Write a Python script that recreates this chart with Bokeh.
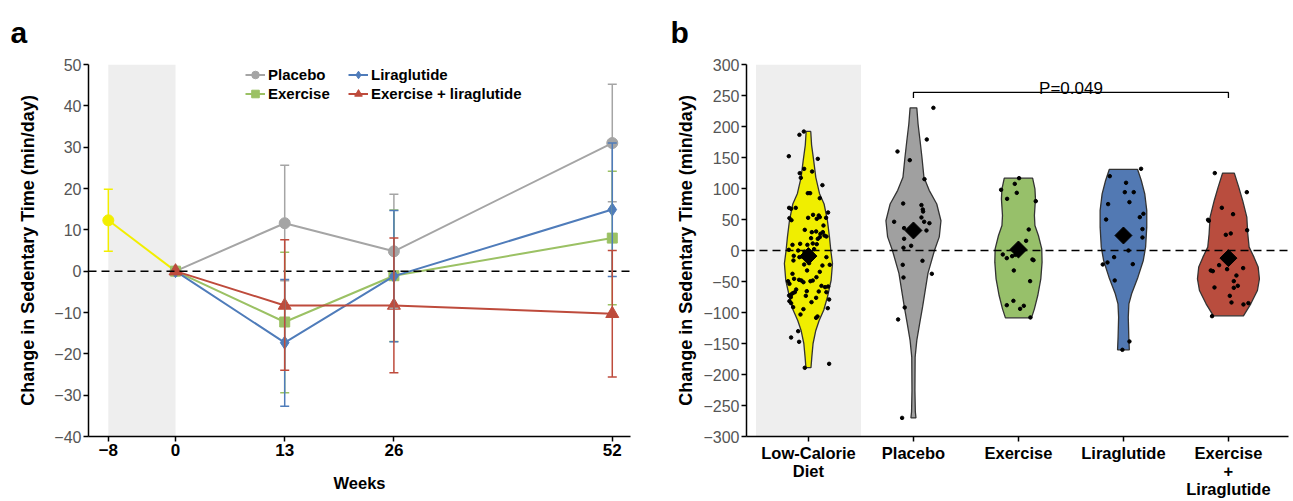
import numpy as np
from bokeh.plotting import figure
from bokeh.models import (Range1d, FixedTicker, BoxAnnotation, Span, Whisker, TeeHead,
                          ColumnDataSource, Legend, LegendItem, Label)
from bokeh.layouts import row
from bokeh.embed import file_html
from bokeh.resources import INLINE

FONT = "Liberation Sans"

# ---------------- Panel a data ----------------
weeks = [0, 13, 26, 52]
err_weeks = [13, 26, 52]
x_ticks_a = [-8, 0, 13, 26, 52]
y_ticks_a = list(range(-40, 51, 10))

lcd_weeks = [-8, 0]
lcd_mean = [12.3, 0.0]
lcd_err_week = [-8]
lcd_lo = [4.8]
lcd_hi = [19.8]

placebo_mean = [0.0, 11.6, 4.8, 31.0]
placebo_lo = [-2.3, -9.0, 16.8]
placebo_hi = [25.6, 18.6, 45.2]

exercise_mean = [0.0, -12.3, -1.1, 8.0]
exercise_lo = [-29.4, -17.0, -8.1]
exercise_hi = [4.6, 14.8, 24.2]

lira_mean = [0.0, -17.3, -1.2, 14.9]
lira_lo = [-32.7, -17.1, -1.3]
lira_hi = [-2.0, 14.7, 31.0]

exlira_mean = [0.0, -8.3, -8.3, -10.3]
exlira_lo = [-24.0, -24.6, -25.6]
exlira_hi = [7.6, 8.0, 5.0]

# ---------------- Panel b data ----------------
groups_b = ["Low-Calorie\nDiet", "Placebo", "Exercise", "Liraglutide", "Exercise\n+\nLiraglutide"]
y_ticks_b = list(range(-300, 301, 50))
group_means = [-9.0, 32.3, 1.6, 24.2, -12.3]

lcd_vals = [186.6, 191.9, 152.1, 147.8, 124.7, 131.7, 127.4, 117.2, 105.4, 92.5,
            92.5, 84.4, 68.8, 67.2, 68.8, 61.3, 52.2, 48.9, 52.7, 57.5,
            51.1, 56.5, 53.8, 52.7, 40.3, 33.3, 29.6, 30.7, 26.9, 29.6,
            24.2, 22.6, 19.9, 18.8, 21.5, 9.1, 10.8, 9.1, 11.3, 10.2,
            1.1, 0.0, -2.1, 2.2, -8.6, -10.7, -9.7, -10.7, -16.1, -22.6,
            -20.4, -24.2, -23.1, -32.2, -34.4, -37.6, -43.0, -45.7, -47.3, -48.4,
            -51.1, -49.5, -48.4, -49.5, -53.8, -57.0, -59.1, -58.1, -62.9, -65.6,
            -66.1, -67.2, -72.6, -71.0, -68.8, -67.2, -75.3, -73.1, -76.3, -81.7,
            -85.0, -83.3, -79.0, -91.4, -94.6, -93.0, -103.2, -106.4, -108.6, -130.1,
            -140.3, -147.3, -182.8, -189.2]
lcd_jit = [-0.086, -0.044, -0.187, 0.089, -0.083, -0.041, 0.035, -0.073, 0.133, -0.006,
           0.016, 0.108, -0.184, -0.165, -0.121, 0.187, -0.181, -0.162, -0.003, 0.044,
           0.079, 0.098, 0.108, 0.168, 0.143, -0.035, 0.032, 0.073, 0.114, 0.137,
           0.152, 0.171, 0.025, 0.089, 0.108, -0.152, -0.079, -0.010, 0.041, 0.079,
           -0.187, -0.098, -0.038, 0.054, -0.140, -0.086, -0.060, 0.171, -0.143, -0.041,
           0.006, 0.133, 0.203, -0.013, 0.108, -0.152, 0.076, -0.137, -0.089, -0.067,
           -0.048, 0.019, 0.041, -0.194, -0.181, 0.124, 0.159, 0.187, -0.117, -0.016,
           0.098, 0.171, -0.184, -0.165, -0.149, -0.130, -0.168, -0.025, 0.073, -0.181,
           -0.165, 0.029, 0.197, -0.146, -0.048, 0.184, -0.076, 0.086, 0.073, -0.098,
           -0.165, -0.089, 0.197, -0.035]

plc_vals = [230.1, 159.7, 179.1, 145.7, 115.1, 75.8, 73.2, 66.2, 62.9, 53.3, 46.3, 46.3,
            44.1, 32.3, 36.1, 18.9, 7.6, 4.4, -16.6, -23.1, -37.6, -43.5, -91.9, -111.2, -270.0]
plc_jit = [0.190, -0.152, 0.127, -0.035, 0.105, -0.098, 0.076, 0.089, 0.092, 0.076, -0.184, 0.102,
           0.152, 0.124, -0.089, -0.089, -0.022, -0.095, 0.086, -0.102, 0.175, -0.095, -0.083, -0.146, -0.108]

ex_vals = [116.7, 107.5, 97.9, 93.0, 83.3, 79.6, 33.9, 15.6, -6.4, -12.3, -9.1, -7.0,
           -14.5, -15.6, -32.2, -49.4, -88.2, -81.2, -94.1, -89.2, -108.0]
ex_jit = [0.006, -0.035, -0.165, -0.016, -0.108, 0.165, 0.098, 0.073, -0.149, -0.111, -0.060, -0.029,
          0.133, 0.143, -0.044, 0.111, -0.111, -0.048, 0.016, 0.051, 0.114]

li_vals = [131.8, 119.9, 109.2, 94.1, 94.1, 78.0, 74.8, 59.2, 53.8, 50.0, 34.5, 21.0,
           0.0, -10.7, -19.3, -22.5, -22.0, -48.3, -146.7, -160.2]
li_jit = [0.168, -0.130, 0.025, 0.013, 0.098, 0.057, -0.146, 0.190, 0.156, -0.165, 0.181, 0.181,
          0.048, -0.089, -0.152, -0.197, 0.089, -0.083, 0.057, -0.010]

el_vals = [124.8, 94.1, 68.9, 58.6, 49.5, 47.9, 25.3, 27.5, 32.8, -23.6, -30.1, -28.4,
           -32.2, -33.3, -40.3, -49.4, -57.0, -60.2, -59.6, -73.1, -83.8, -87.0, -84.9, -105.9]
el_jit = [-0.130, 0.175, -0.063, 0.044, -0.194, -0.187, -0.025, 0.022, 0.178, -0.089, -0.013, 0.140,
          -0.168, -0.149, 0.076, 0.051, 0.089, 0.051, -0.133, 0.013, 0.029, 0.143, 0.190, -0.156]

# violin outlines: value levels and half widths (category units)
lcd_prof_y = [192, 170, 145, 118, 92, 75, 48, 22, 0, -21, -48, -75, -96, -113, -129, -150, -172, -189]
lcd_prof_w = [0.022, 0.030, 0.050, 0.070, 0.105, 0.149, 0.181, 0.200, 0.213, 0.229, 0.216, 0.181,
              0.146, 0.102, 0.070, 0.044, 0.032, 0.024]
plc_prof_y = [230, 204, 177, 150, 118, 97, 75, 48, 22, 0, -37, -91, -118, -145, -172, -226, -260, -270]
plc_prof_w = [0.032, 0.044, 0.063, 0.081, 0.100, 0.150, 0.222, 0.262, 0.246, 0.200, 0.138, 0.087,
              0.059, 0.032, 0.016, 0.014, 0.018, 0.024]
ex_prof_y = [116.7, 99.5, 83.3, 56.5, 40.3, 24.2, 2.7, -18.8, -45.7, -72.6, -94.1, -108.6]
ex_prof_w = [0.135, 0.157, 0.162, 0.152, 0.157, 0.190, 0.222, 0.225, 0.213, 0.184, 0.152, 0.124]
li_prof_y = [130.7, 112.9, 91.4, 64.6, 37.7, 5.4, -16.1, -43.0, -69.8, -86.0, -107.5, -139.7, -160.2]
li_prof_w = [0.135, 0.170, 0.203, 0.222, 0.222, 0.211, 0.189, 0.138, 0.078, 0.052, 0.046, 0.051, 0.056]
el_prof_y = [124.8, 102.2, 80.7, 53.8, 27.0, 5.4, -10.7, -26.8, -45.7, -64.5, -86.0, -105.3]
el_prof_w = [0.056, 0.098, 0.135, 0.175, 0.184, 0.197, 0.243, 0.283, 0.295, 0.276, 0.213, 0.143]

p_text = "P=0.049"
bracket_pair = (1, 4)      # Placebo vs Exercise + Liraglutide (indices)
bracket_y = 255
bracket_drop = 246

# ---------------- styling ----------------
C_GRAY, C_GREEN, C_BLUE, C_RED, C_YEL = "#A5A5A5", "#9BC164", "#4F7CBA", "#BE4B3C", "#F2EE00"
V_COLS = ["#F0EE00", "#A0A0A0", "#97C06A", "#5279B3", "#B94D3E"]
SHADE = "#EEEEEE"
TICK_GRAY = "#555555"


def style_axes(p):
    p.xgrid.visible = False
    p.ygrid.visible = False
    p.outline_line_color = None
    for ax in (p.xaxis[0], p.yaxis[0]):
        ax.axis_line_color = "black"
        ax.axis_line_width = 1.5
        ax.major_tick_line_color = "black"
        ax.major_tick_line_width = 1.5
        ax.major_tick_out = 5
        ax.major_tick_in = 0
        ax.minor_tick_line_color = None
        ax.major_label_text_font = FONT
        ax.axis_label_text_font = FONT
        ax.axis_label_text_font_style = "bold"
        ax.axis_label_text_color = "black"
    p.yaxis[0].axis_label_text_font_size = "18px"
    p.xaxis[0].axis_label_text_font_size = "16.5px"
    p.yaxis[0].major_label_text_font_size = "16px"
    p.yaxis[0].major_label_text_color = TICK_GRAY
    p.yaxis[0].major_label_standoff = 2
    p.xaxis[0].major_label_text_font_size = "17px"
    p.xaxis[0].major_label_text_font_style = "bold"
    p.xaxis[0].major_label_text_color = "black"
    p.xaxis[0].major_label_standoff = 2
    p.title.text_font = FONT
    p.title.text_font_size = "30px"
    p.title.text_font_style = "bold"
    p.title.text_color = "black"
    p.title.align = "left"
    p.title.vertical_align = "top"
    p.title.standoff = 27


# ---------------- Panel a ----------------
p1 = figure(width=645, height=501, x_range=Range1d(-10.36, 54.17), y_range=Range1d(-40, 50),
            output_backend="svg", toolbar_location=None, title="a",
            min_border_left=88, min_border_right=15, min_border_top=64, min_border_bottom=65)
style_axes(p1)
p1.title.offset = -78
p1.xaxis[0].ticker = FixedTicker(ticks=x_ticks_a)
p1.yaxis[0].ticker = FixedTicker(ticks=y_ticks_a)
p1.xaxis[0].axis_label = "Weeks"
p1.yaxis[0].axis_label = "Change in Sedentary Time (min/day)"
p1.xaxis[0].axis_label_standoff = 15
p1.yaxis[0].axis_label_standoff = 13

p1.add_layout(BoxAnnotation(left=lcd_weeks[0], right=lcd_weeks[1], fill_color=SHADE, fill_alpha=1,
                            line_color=None, level="underlay"))
p1.add_layout(Span(location=0, dimension="width", line_color="black", line_width=1.5, line_dash="8 5"))

# low-calorie diet run-in
p1.line(lcd_weeks, lcd_mean, line_color=C_YEL, line_width=2)
p1.scatter(lcd_weeks[:1], lcd_mean[:1], marker="circle", size=11, color=C_YEL)
src_l = ColumnDataSource(dict(x=lcd_err_week, lo=lcd_lo, hi=lcd_hi))
p1.add_layout(Whisker(base="x", lower="lo", upper="hi", source=src_l, line_color=C_YEL, line_width=1.5,
                      upper_head=TeeHead(size=9, line_color=C_YEL, line_width=1.5),
                      lower_head=TeeHead(size=9, line_color=C_YEL, line_width=1.5), level="overlay"))

series = [
    ("Placebo", placebo_mean, placebo_lo, placebo_hi, C_GRAY, "circle", 11),
    ("Exercise", exercise_mean, exercise_lo, exercise_hi, C_GREEN, "square", 10),
    ("Liraglutide", lira_mean, lira_lo, lira_hi, C_BLUE, "diamond", 13),
    ("Exercise + liraglutide", exlira_mean, exlira_lo, exlira_hi, C_RED, "triangle", 13),
]
items = {}
for name, mean, lo, hi, col, mk, sz in series:
    lr = p1.line(weeks, mean, line_color=col, line_width=2)
    mr = p1.scatter(weeks, mean, marker=mk, size=sz, color=col)
    src = ColumnDataSource(dict(x=err_weeks, lo=lo, hi=hi))
    p1.add_layout(Whisker(base="x", lower="lo", upper="hi", source=src, line_color=col, line_width=1.5,
                          upper_head=TeeHead(size=9, line_color=col, line_width=1.5),
                          lower_head=TeeHead(size=9, line_color=col, line_width=1.5), level="overlay"))
    items[name] = LegendItem(label=name, renderers=[lr, mr])


def make_legend(item_list, loc):
    lg = Legend(items=item_list, location=loc, orientation="vertical", border_line_color=None,
                background_fill_alpha=0, padding=0, margin=0, spacing=0, glyph_height=19, glyph_width=20,
                label_standoff=3, label_height=19, label_text_font=FONT, label_text_font_size="15px",
                label_text_font_style="bold", label_text_color="black")
    return lg


p1.add_layout(make_legend([items["Placebo"], items["Exercise"]], (157, 333)))
p1.add_layout(make_legend([items["Liraglutide"], items["Exercise + liraglutide"]], (260, 333)))

# ---------------- Panel b ----------------
pos = [i + 1 for i in range(len(groups_b))]
p2 = figure(width=648, height=501, x_range=Range1d(0.41, 5.572), y_range=Range1d(-300, 300),
            output_backend="svg", toolbar_location=None, title="b",
            min_border_left=101, min_border_right=5, min_border_top=64, min_border_bottom=65)
style_axes(p2)
p2.title.offset = -76
p2.xaxis[0].ticker = FixedTicker(ticks=pos)
p2.xaxis[0].major_label_overrides = {p: g for p, g in zip(pos, groups_b)}
p2.xaxis[0].major_label_text_font_size = "16.5px"
p2.xaxis[0].major_label_text_line_height = 1.0
p2.yaxis[0].ticker = FixedTicker(ticks=y_ticks_b)
p2.yaxis[0].axis_label = "Change in Sedentary Time (min/day)"
p2.yaxis[0].axis_label_standoff = 4

p2.add_layout(BoxAnnotation(left=pos[0] - 0.5, right=pos[0] + 0.5, fill_color=SHADE, fill_alpha=1,
                            line_color=None, level="underlay"))

profiles = [(lcd_prof_y, lcd_prof_w), (plc_prof_y, plc_prof_w), (ex_prof_y, ex_prof_w),
            (li_prof_y, li_prof_w), (el_prof_y, el_prof_w)]
for c, (py, pw), col in zip(pos, profiles, V_COLS):
    py = np.array(py, dtype=float)
    pw = np.array(pw, dtype=float)
    xs = np.concatenate([c - pw, (c + pw)[::-1]])
    ys = np.concatenate([py, py[::-1]])
    p2.patch(xs, ys, fill_color=col, line_color="#333333", line_width=1.3)

p2.add_layout(Span(location=0, dimension="width", line_color="black", line_width=1.5, line_dash="8 5"))

points = [(lcd_vals, lcd_jit), (plc_vals, plc_jit), (ex_vals, ex_jit), (li_vals, li_jit), (el_vals, el_jit)]
for c, (vals, jit) in zip(pos, points):
    p2.scatter([c + j for j in jit], vals, marker="circle", size=3.5, color="black")

p2.scatter(pos, group_means, marker="square", angle=np.pi / 4, size=12, color="black")

b0, b1 = pos[bracket_pair[0]], pos[bracket_pair[1]]
p2.line([b0, b0, b1, b1], [bracket_drop, bracket_y, bracket_y, bracket_drop], line_color="black", line_width=1.3)
p2.add_layout(Label(x=(b0 + b1) / 2, y=bracket_y + 6, text=p_text, text_align="center",
                    text_baseline="alphabetic", text_font=FONT, text_font_size="17px", text_color="black"))

layout = row(p1, p2)
open("out.html", "w").write(file_html(layout, INLINE))
